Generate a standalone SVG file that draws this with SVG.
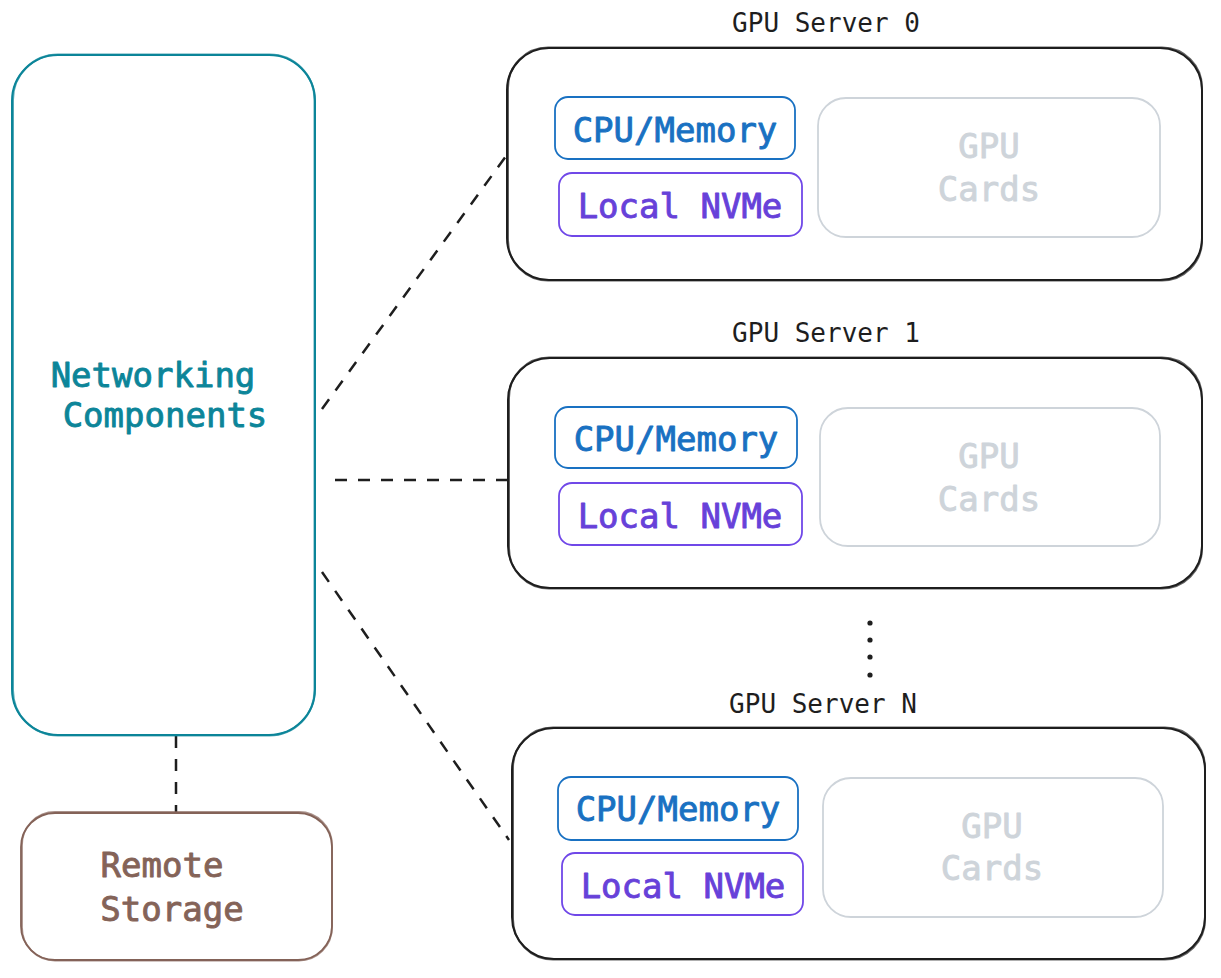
<svg xmlns="http://www.w3.org/2000/svg" width="1221" height="978" viewBox="0 0 1221 978">
<style>
.lbl{font-family:"DejaVu Sans Mono","Liberation Mono",monospace;font-size:34px;text-anchor:middle;stroke-width:0.9;stroke-linejoin:round}
.ttl{font-family:"DejaVu Sans Mono","Liberation Mono",monospace;font-size:26px;text-anchor:middle;fill:#1e1e1e}
.box{fill:none;stroke-linejoin:round}
.srv{stroke:#1e1e1e;stroke-width:2}
.cpu{stroke:#1971c2;stroke-width:1.8}
.nvm{stroke:#7048e8;stroke-width:1.8}
.gpu{stroke:#ced4da;stroke-width:1.8}
.net{stroke:#0c8599;stroke-width:2}
.rem{stroke:#846358;stroke-width:1.8}
.dash{fill:none;stroke:#1e1e1e;stroke-width:2.5;stroke-dasharray:12 11}
.tc{fill:#0c8599;stroke:#0c8599}
.tb{fill:#1971c2;stroke:#1971c2}
.tv{fill:#6741d9;stroke:#6741d9}
.tg{fill:#ced4da;stroke:#ced4da}
.tr{fill:#846358;stroke:#846358}
</style>
<rect width="1221" height="978" fill="#ffffff"/>

<g id="connectors">
<line class="dash" x1="322" y1="409" x2="509" y2="152"/>
<line class="dash" x1="335" y1="480" x2="507" y2="480"/>
<line class="dash" x1="322" y1="572" x2="509" y2="840"/>
<line class="dash" x1="176" y1="736" x2="176" y2="812"/>
</g>

<g id="networking">
<rect class="box net" x="12" y="55" width="303" height="680" rx="46"/>
<rect class="box net" x="13" y="54.5" width="301.5" height="681" rx="45" stroke-width="1" opacity="0.7"/>
<text class="lbl tc" x="153" y="387">Networking</text>
<text class="lbl tc" x="165" y="427">Components</text>
</g>

<g id="remote-storage">
<rect class="box rem" x="21" y="813" width="311" height="147" rx="34"/>
<rect class="box rem" x="22" y="812" width="310" height="148.5" rx="33" stroke-width="1" opacity="0.7"/>
<text class="lbl tr" x="162" y="877">Remote</text>
<text class="lbl tr" x="172" y="921">Storage</text>
</g>

<g id="gpu-server-0">
<text class="ttl" x="826" y="32">GPU Server 0</text>
<rect class="box srv" x="507" y="48" width="695" height="232" rx="42"/>
<rect class="box srv" x="508" y="47.5" width="694" height="233" rx="40" stroke-width="1" opacity="0.7"/>
<g id="cpu-0">
<rect class="box cpu" x="555" y="97" width="240" height="62" rx="13"/>
<text class="lbl tb" x="675" y="142">CPU/Memory</text>
</g>
<g id="nvme-0">
<rect class="box nvm" x="559" y="173" width="243" height="63" rx="13"/>
<text class="lbl tv" x="680" y="218">Local NVMe</text>
</g>
<g id="gpu-0">
<rect class="box gpu" x="818" y="98" width="342" height="139" rx="28"/>
<text class="lbl tg" x="989" y="158">GPU</text>
<text class="lbl tg" x="989" y="201">Cards</text>
</g>
</g>

<g id="gpu-server-1">
<text class="ttl" x="826" y="342">GPU Server 1</text>
<rect class="box srv" x="508" y="358" width="694" height="230" rx="42"/>
<rect class="box srv" x="509" y="357.5" width="693" height="231" rx="40" stroke-width="1" opacity="0.7"/>
<g id="cpu-1">
<rect class="box cpu" x="555" y="407" width="242" height="61" rx="13"/>
<text class="lbl tb" x="676" y="451">CPU/Memory</text>
</g>
<g id="nvme-1">
<rect class="box nvm" x="559" y="483" width="243" height="62" rx="13"/>
<text class="lbl tv" x="680" y="528">Local NVMe</text>
</g>
<g id="gpu-1">
<rect class="box gpu" x="820" y="408" width="340" height="138" rx="28"/>
<text class="lbl tg" x="989" y="468">GPU</text>
<text class="lbl tg" x="989" y="511">Cards</text>
</g>
</g>

<g id="ellipsis" fill="#1e1e1e">
<circle cx="870" cy="623" r="2.6"/>
<circle cx="870" cy="640" r="2.6"/>
<circle cx="870" cy="657" r="2.6"/>
<circle cx="870" cy="675" r="2.6"/>
</g>

<g id="gpu-server-n">
<text class="ttl" x="823" y="713">GPU Server N</text>
<rect class="box srv" x="512" y="728" width="693" height="231" rx="42"/>
<rect class="box srv" x="513" y="727.5" width="692" height="232" rx="40" stroke-width="1" opacity="0.7"/>
<g id="cpu-n">
<rect class="box cpu" x="558" y="777" width="240" height="63" rx="13"/>
<text class="lbl tb" x="678" y="821">CPU/Memory</text>
</g>
<g id="nvme-n">
<rect class="box nvm" x="562" y="853" width="241" height="62" rx="13"/>
<text class="lbl tv" x="683" y="898">Local NVMe</text>
</g>
<g id="gpu-n">
<rect class="box gpu" x="823" y="778" width="340" height="139" rx="28"/>
<text class="lbl tg" x="992" y="838">GPU</text>
<text class="lbl tg" x="992" y="880">Cards</text>
</g>
</g>
</svg>
